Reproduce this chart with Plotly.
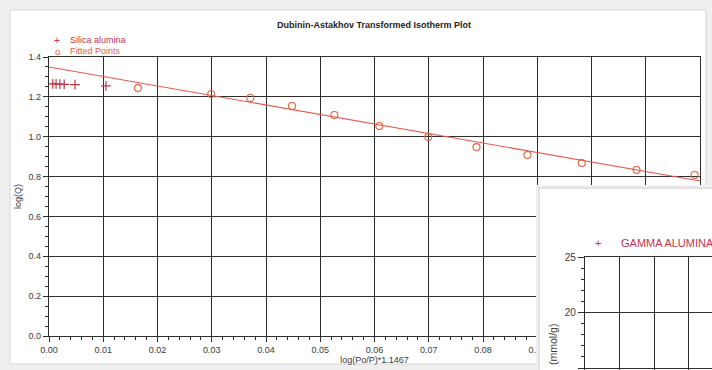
import plotly.graph_objects as go

# ---------------- data ----------------
silica_x = [0.0007, 0.0013, 0.0020, 0.0028, 0.0048, 0.0105]
silica_y = [1.265, 1.265, 1.264, 1.263, 1.261, 1.255]

fitted_x = [0.0164, 0.0299, 0.0371, 0.0448, 0.0526, 0.0609, 0.0699,
            0.0788, 0.0882, 0.0982, 0.1083, 0.1190]
fitted_y = [1.244, 1.214, 1.194, 1.154, 1.109, 1.054, 0.998,
            0.948, 0.908, 0.868, 0.833, 0.808]

fit_line_x = [0.0, 0.12]
fit_line_y = [1.350, 0.778]

# inset (partially visible second chart): no data points are visible in it
inset_x = []
inset_y = []

title_text = "Dubinin-Astakhov Transformed Isotherm Plot"
x_title = "log(Po/P)*1.1467"
y_title = "log(Q)"
series1_name = "Silica alumina"
series2_name = "Fitted Points"
inset_series_name = "GAMMA ALUMINA"
inset_y_title = "(mmol/g)"

# ---------------- layout helpers ----------------
W, H = 712, 370
def fx(px):
    return px / W
def fy(py):
    return 1 - py / H

FONT = "Liberation Sans, Arial, sans-serif"
GRID = "#2e2e2e"
TXT = "#3a3a3a"
CRIMSON = "#c8324a"
ORANGE = "#e4603e"
LINE = "#e8584c"

fig = go.Figure()

fig.add_trace(go.Scatter(
    x=silica_x, y=silica_y, mode="markers", name=series1_name,
    marker=dict(symbol="cross-thin", size=7, line=dict(width=1.2, color=CRIMSON), color=CRIMSON),
    xaxis="x", yaxis="y", showlegend=False))
fig.add_trace(go.Scatter(
    x=fit_line_x, y=fit_line_y, mode="lines", name="Fit",
    line=dict(color=LINE, width=1.1), xaxis="x", yaxis="y", showlegend=False))
fig.add_trace(go.Scatter(
    x=fitted_x, y=fitted_y, mode="markers", name=series2_name,
    marker=dict(symbol="circle-open", size=7, line=dict(width=1.1, color=ORANGE), color=ORANGE),
    xaxis="x", yaxis="y", showlegend=False))
# white card that covers part of the main chart (empty subplot)
fig.add_trace(go.Scatter(x=[], y=[], mode="markers", xaxis="x2", yaxis="y2",
                         showlegend=False, hoverinfo="skip"))
# inset chart
fig.add_trace(go.Scatter(x=inset_x, y=inset_y, mode="markers", name=inset_series_name,
                         marker=dict(symbol="cross-thin", size=8, line=dict(width=1.2, color=CRIMSON)),
                         xaxis="x3", yaxis="y3", showlegend=False))

tickfont = dict(family=FONT, size=9, color=TXT)

fig.update_layout(
    width=W, height=H,
    margin=dict(l=0, r=0, t=0, b=0, autoexpand=False),
    paper_bgcolor="#efefef",
    plot_bgcolor="#ffffff",
    showlegend=False,
    font=dict(family=FONT, size=9, color=TXT),
    xaxis=dict(
        domain=[fx(49), fx(700)], range=[0, 0.12], anchor="y", automargin=False,
        dtick=0.01, tick0=0, tickformat=".2f",
        showgrid=True, gridcolor=GRID, gridwidth=1.3,
        showline=True, linecolor=GRID, linewidth=1.3, mirror=True,
        ticks="outside", ticklen=5, tickcolor=GRID, tickwidth=1,
        minor=dict(dtick=0.002, ticks="outside", ticklen=3, tickcolor=GRID, showgrid=False),
        tickfont=tickfont, zeroline=False,
        title=dict(text=x_title, font=dict(family=FONT, size=9, color=TXT), standoff=2),
    ),
    yaxis=dict(
        domain=[fy(336), fy(57)], range=[0, 1.4], anchor="x", automargin=False,
        dtick=0.2, tick0=0, tickformat=".1f",
        showgrid=True, gridcolor=GRID, gridwidth=1.3,
        showline=True, linecolor=GRID, linewidth=1.3, mirror=True,
        ticks="outside", ticklen=5, tickcolor=GRID, tickwidth=1,
        minor=dict(dtick=0.05, ticks="outside", ticklen=3, tickcolor=GRID, showgrid=False),
        tickfont=tickfont, zeroline=False,
        title=dict(text=y_title, font=dict(family=FONT, size=9, color=TXT), standoff=5),
    ),
    xaxis2=dict(domain=[fx(536), 1], range=[0, 1], anchor="y2", visible=False,
                fixedrange=True, automargin=False),
    yaxis2=dict(domain=[0, fy(185)], range=[0, 1], anchor="x2", visible=False,
                fixedrange=True, automargin=False),
    xaxis3=dict(
        domain=[fx(585), 1], range=[0, 3.68], anchor="y3", dtick=1, tick0=0, automargin=False,
        showgrid=True, gridcolor=GRID, gridwidth=1.4, showticklabels=False,
        showline=True, linecolor=GRID, linewidth=1.4, mirror=True, zeroline=False,
    ),
    yaxis3=dict(
        domain=[0, fy(257)], range=[14.82, 25], anchor="x3", dtick=5, tick0=0, automargin=False,
        showgrid=True, gridcolor=GRID, gridwidth=1.4,
        showline=True, linecolor=GRID, linewidth=1.4, mirror=True, zeroline=False,
        ticks="outside", ticklen=6, tickcolor=GRID,
        minor=dict(dtick=1, ticks="outside", ticklen=3, tickcolor=GRID, showgrid=False),
        tickfont=dict(family=FONT, size=10, color=TXT),
    ),
)

cw = 712 - 536
ch = 370 - 185
shapes = [
    dict(type="rect", xref="paper", yref="paper", x0=fx(10), x1=fx(706), y0=fy(364), y1=fy(10),
         fillcolor="#ffffff", line=dict(color="#d6d6d6", width=1), layer="below"),
    # soft shadow at the left and top edges of the covering card
    dict(type="rect", xref="x2", yref="y2", x0=0, x1=2 / cw, y0=0, y1=1,
         fillcolor="#f0f0f0", line=dict(width=0), layer="below"),
    dict(type="rect", xref="x2", yref="y2", x0=2 / cw, x1=4 / cw, y0=0, y1=1 - 2 / ch,
         fillcolor="#e2e2e2", line=dict(width=0), layer="below"),
    dict(type="rect", xref="x2", yref="y2", x0=0, x1=1, y0=1 - 2 / ch, y1=1,
         fillcolor="#f0f0f0", line=dict(width=0), layer="below"),
    dict(type="rect", xref="x2", yref="y2", x0=2 / cw, x1=1, y0=1 - 4 / ch, y1=1 - 2 / ch,
         fillcolor="#e2e2e2", line=dict(width=0), layer="below"),
]
fig.update_layout(shapes=shapes)

annotations = [
    dict(text="<b>" + title_text + "</b>", x=fx(374), y=fy(25), xref="paper", yref="paper",
         showarrow=False, font=dict(family=FONT, size=9, color="#1e1e1e"), xanchor="center", yanchor="middle"),
    dict(text="+", x=fx(57), y=fy(40), xref="paper", yref="paper", showarrow=False,
         font=dict(family=FONT, size=10, color=CRIMSON), xanchor="center", yanchor="middle"),
    dict(text=series1_name, x=fx(68), y=fy(40), xref="paper", yref="paper", showarrow=False,
         font=dict(family=FONT, size=9, color=CRIMSON), xanchor="left", yanchor="middle"),
    dict(text="o", x=fx(57), y=fy(51), xref="paper", yref="paper", showarrow=False,
         font=dict(family=FONT, size=9.5, color=ORANGE), xanchor="center", yanchor="middle"),
    dict(text=series2_name, x=fx(68), y=fy(51), xref="paper", yref="paper", showarrow=False,
         font=dict(family=FONT, size=9, color=ORANGE), xanchor="left", yanchor="middle"),
    dict(text="+", x=fx(598), y=fy(243), xref="paper", yref="paper", showarrow=False,
         font=dict(family=FONT, size=11, color=CRIMSON), xanchor="center", yanchor="middle"),
    dict(text=inset_series_name, x=fx(619), y=fy(243), xref="paper", yref="paper", showarrow=False,
         font=dict(family=FONT, size=11, color=CRIMSON), xanchor="left", yanchor="middle"),
    dict(text=inset_y_title, x=fx(553), y=fy(345), xref="paper", yref="paper", showarrow=False,
         textangle=-90, font=dict(family=FONT, size=10.5, color=TXT),
         xanchor="center", yanchor="middle"),
]
fig.update_layout(annotations=annotations)

fig.write_html(
    "out.html",
    config={"displayModeBar": False},
    post_script="document.body.style.margin='0';document.body.style.overflow='hidden';",
)
